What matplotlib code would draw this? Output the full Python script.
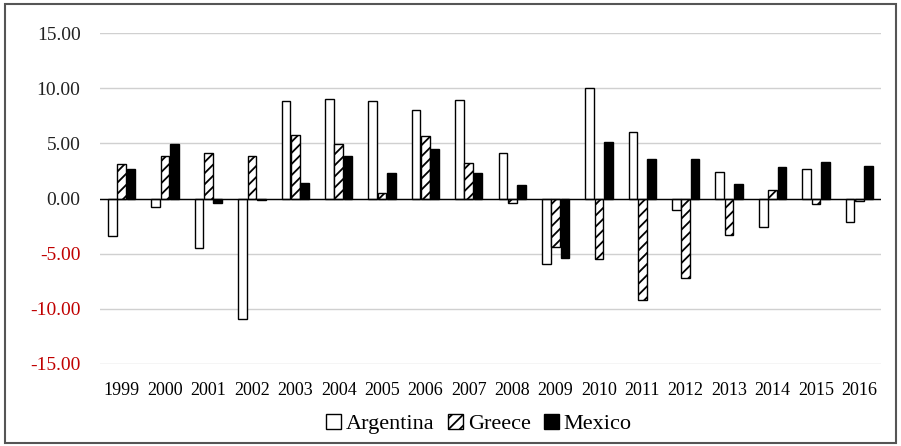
import numpy as np
import matplotlib.pyplot as plt
from matplotlib.patches import Rectangle

years = ['1999', '2000', '2001', '2002', '2003', '2004', '2005', '2006', '2007',
         '2008', '2009', '2010', '2011', '2012', '2013', '2014', '2015', '2016']
argentina = [-3.4, -0.76, -4.47, -10.9, 8.8, 9.05, 8.8, 8.05, 8.95,
             4.1, -5.97, 10.06, 6.0, -1.06, 2.44, -2.57, 2.71, -2.17]
greece = [3.1, 3.85, 4.1, 3.85, 5.75, 4.97, 0.5, 5.63, 3.2,
          -0.4, -4.37, -5.49, -9.2, -7.24, -3.32, 0.81, -0.54, -0.24]
mexico = [2.7, 4.9, -0.4, -0.1, 1.45, 3.85, 2.3, 4.48, 2.3,
          1.2, -5.37, 5.12, 3.58, 3.58, 1.32, 2.83, 3.35, 2.95]
yticks = [15, 10, 5, 0, -5, -10, -15]

plt.rcParams['font.family'] = ['Liberation Serif', 'DejaVu Serif']
plt.rcParams['hatch.linewidth'] = 1.3

fig = plt.figure(figsize=(9.01, 4.46), dpi=100)
ax = fig.add_axes([100 / 901, 1 - 364 / 446, 781 / 901, 331 / 446])

x = np.arange(len(years))
w = 0.2
ax.bar(x - 0.215, argentina, w, color='white', edgecolor='black', linewidth=1, label='Argentina', zorder=3)
ax.bar(x, greece, w, color='white', edgecolor='black', hatch='///', linewidth=1, label='Greece', zorder=3)
ax.bar(x + 0.215, mexico, w, color='black', edgecolor='black', linewidth=1, label='Mexico', zorder=3)

ax.set_xlim(-0.5, len(years) - 0.5)
ax.set_ylim(-15, 15)
ax.set_yticks(yticks)
ax.set_yticklabels([f'{v:.2f}' for v in yticks], fontsize=14)
for lbl, v in zip(ax.get_yticklabels(), yticks):
    lbl.set_color('#c00000' if v < 0 else '#222222')
ax.set_xticks(x)
ax.set_xticklabels(years, fontsize=13)
ax.tick_params(length=0, axis='y', pad=14)
ax.tick_params(length=0, axis='x', pad=13)

ax.grid(axis='y', color='#d0d0d0', linewidth=1, zorder=0)
ax.axhline(0, color='black', linewidth=1, zorder=4)
for s in ax.spines.values():
    s.set_visible(False)

ax.legend(loc='upper center', bbox_to_anchor=(0.485, -0.09), ncol=3, frameon=False,
          fontsize=16, handlelength=0.7, handleheight=0.7, handletextpad=0.2, columnspacing=0.6)

fig.patches.append(Rectangle((5 / 901, 3 / 446), 891 / 901, 439 / 446, transform=fig.transFigure,
                             fill=False, edgecolor='#555555', linewidth=1.5))

fig.savefig('out.png', dpi=100)
